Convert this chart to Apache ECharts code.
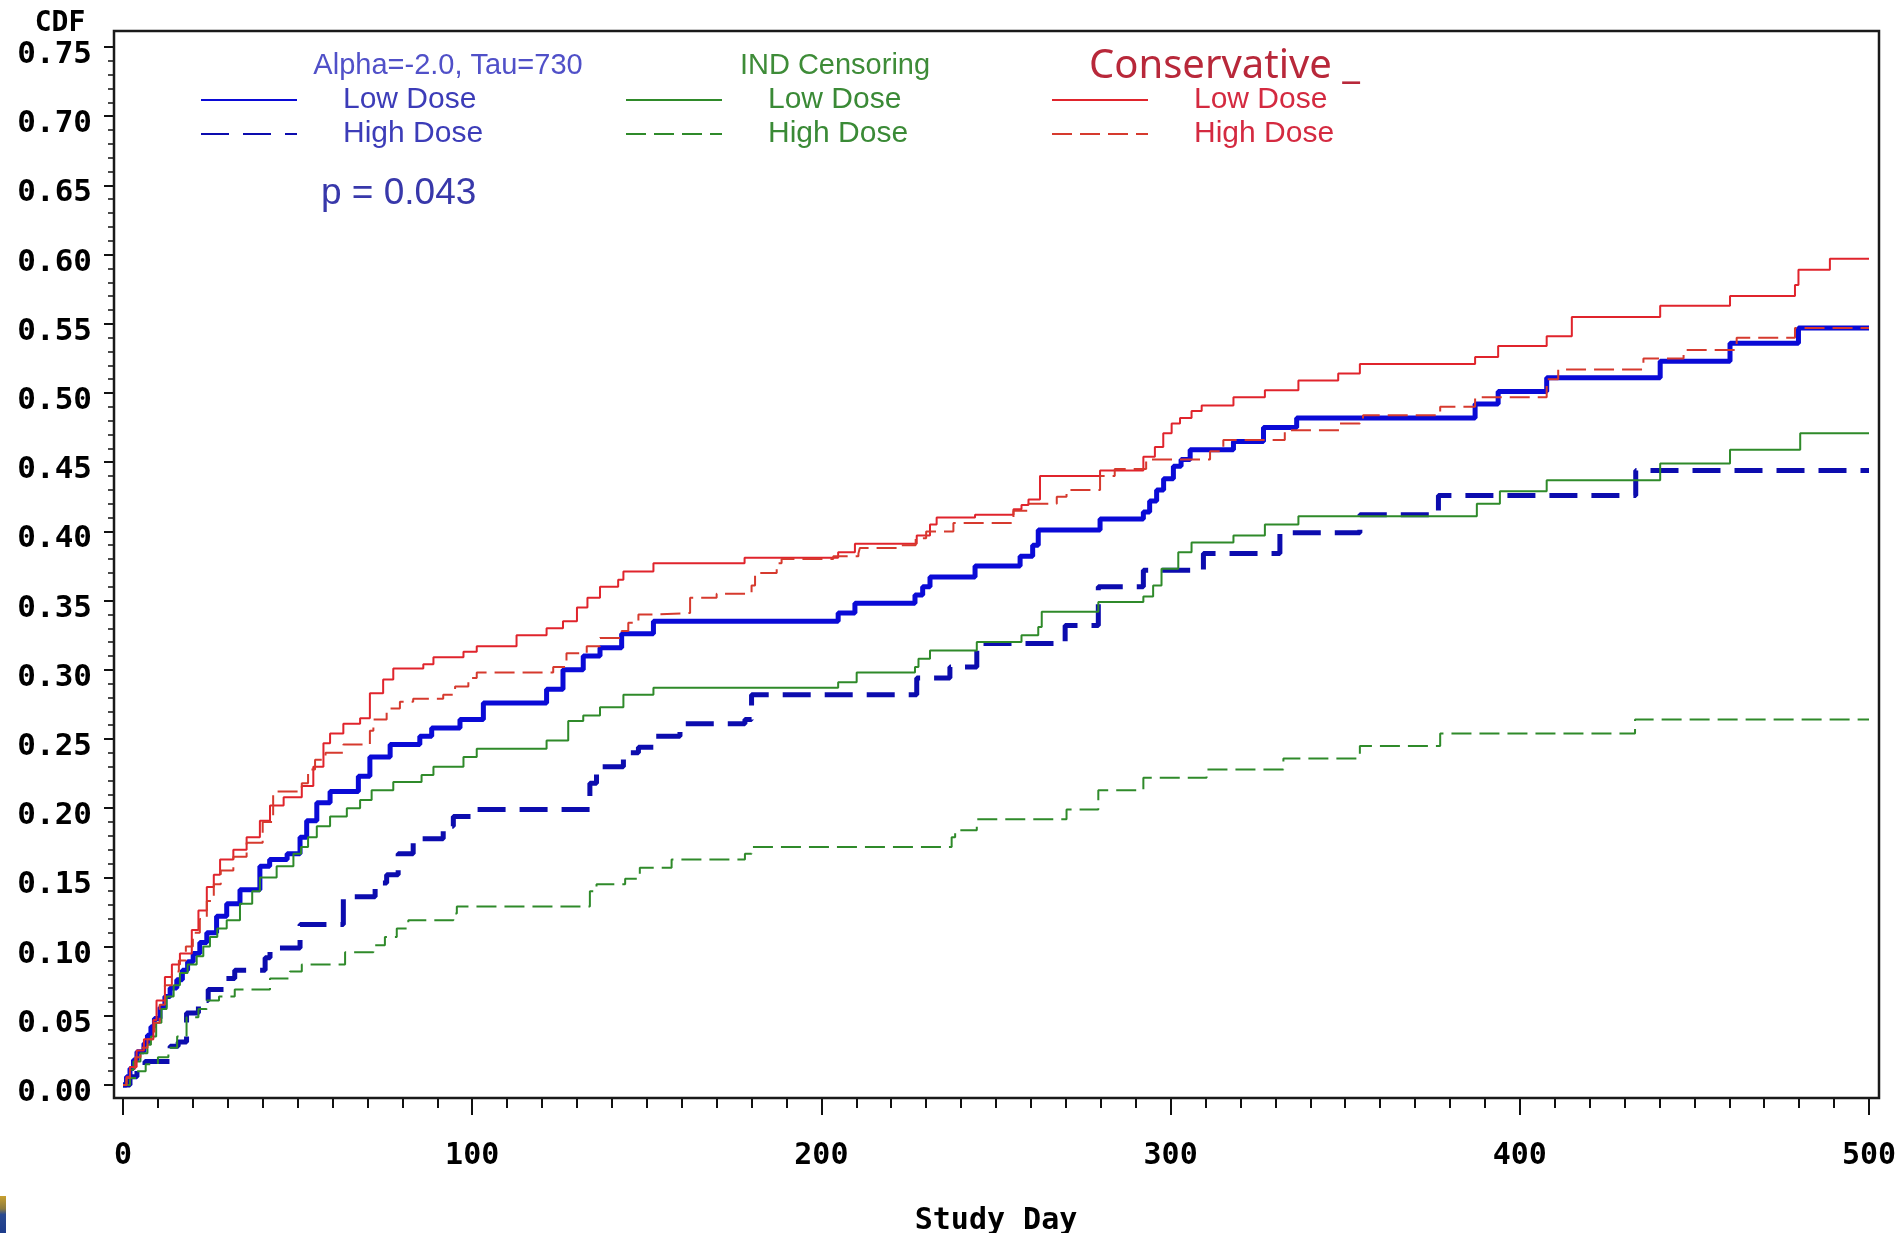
<!DOCTYPE html>
<html>
<head>
<meta charset="utf-8">
<script src="https://cdn.jsdelivr.net/npm/echarts@6/dist/echarts.min.js"></script>
<style>
  html, body { margin: 0; padding: 0; background: #fff; }
  #main { width: 1901px; height: 1233px; }
</style>
</head>
<body>
<div id="main"></div>
<script>
// tick values of both axes
const xTicks = [0, 100, 200, 300, 400, 500];
const yTicks = [0.00, 0.05, 0.10, 0.15, 0.20, 0.25, 0.30, 0.35, 0.40, 0.45, 0.50, 0.55, 0.60, 0.65, 0.70, 0.75];

// [study day, CDF] - step curves
const alphaLow = [
  [0, 0], [1, 0.006], [2, 0.012], [3, 0.018], [4, 0.024], [6, 0.03], [7, 0.036], [8, 0.042], [9, 0.048],
  [10.6, 0.056], [12, 0.064], [13.5, 0.07], [15.4, 0.076], [17, 0.083], [18.5, 0.089], [20.1, 0.095],
  [22, 0.103], [24, 0.11], [26.8, 0.122], [29.7, 0.131], [33.5, 0.141], [39.2, 0.158], [42, 0.163],
  [47, 0.167], [50.7, 0.179], [52.6, 0.191], [55.5, 0.204], [59.3, 0.212], [67.4, 0.223], [70.7, 0.237],
  [76.5, 0.246], [85, 0.252], [88.4, 0.258], [96.5, 0.264], [103.2, 0.276], [121.3, 0.286], [126, 0.3],
  [131.8, 0.31], [136.6, 0.316], [142.8, 0.326], [151.9, 0.335], [204.8, 0.341], [209.6, 0.348],
  [226.8, 0.354], [229, 0.36], [231.1, 0.367], [244, 0.375], [256.9, 0.382], [260.5, 0.39], [262.1, 0.401],
  [279.8, 0.409], [292.2, 0.414], [294, 0.422], [296, 0.43], [298, 0.438], [300.8, 0.447], [303, 0.452],
  [305.6, 0.459], [318, 0.465], [326.6, 0.475], [336.1, 0.482], [387.2, 0.492], [393.8, 0.501],
  [407.7, 0.511], [440.2, 0.523], [460.2, 0.536], [479.8, 0.547], [500, 0.547]
];
const alphaHigh = [
  [0, 0], [2, 0.006], [4, 0.012], [6.3, 0.017], [13.5, 0.028], [15.8, 0.031], [18.2, 0.052], [21.6, 0.061],
  [24.4, 0.069], [29.2, 0.077], [32, 0.083], [40.7, 0.092], [42.1, 0.099], [50.7, 0.116], [63.1, 0.136],
  [72.2, 0.146], [75.5, 0.152], [78.8, 0.167], [83.1, 0.178], [91.7, 0.187], [94.6, 0.194], [99.7, 0.199],
  [133.7, 0.218], [135.6, 0.23], [143.3, 0.24], [147.6, 0.244], [152.3, 0.252], [159.5, 0.261],
  [178.1, 0.264], [180, 0.282], [227.3, 0.294], [236.8, 0.302], [244.5, 0.319], [269.8, 0.332],
  [279.3, 0.36], [292.2, 0.372], [309.4, 0.384], [331.3, 0.399], [354.2, 0.412], [376.7, 0.426],
  [433.2, 0.444], [500, 0.444]
];
const indLow = [
  [0, 0], [1, 0.005], [2, 0.011], [3, 0.017], [5, 0.023], [7, 0.029], [8, 0.035], [9.5, 0.045], [11, 0.055],
  [12.5, 0.064], [14.5, 0.072], [16.3, 0.081], [18.5, 0.087], [21.1, 0.093], [23, 0.1], [24.9, 0.107],
  [27, 0.113], [29.7, 0.119], [33.5, 0.131], [37, 0.14], [39.2, 0.15], [44, 0.158], [48.8, 0.167],
  [51, 0.172], [53, 0.179], [55.5, 0.187], [59.3, 0.194], [64.1, 0.2], [67.9, 0.206], [71.2, 0.213],
  [77.4, 0.219], [85.5, 0.224], [88.9, 0.23], [97.5, 0.237], [101.3, 0.243], [121.3, 0.249],
  [127.5, 0.263], [131.8, 0.267], [136.6, 0.273], [143.3, 0.282], [151.9, 0.287], [204.8, 0.291],
  [210.1, 0.298], [226.8, 0.302], [227.8, 0.308], [231.1, 0.314], [244.5, 0.32], [257.3, 0.325],
  [262.1, 0.331], [263.1, 0.342], [279.3, 0.349], [292.2, 0.353], [295, 0.361], [297.4, 0.373],
  [302.2, 0.385], [306, 0.392], [318, 0.397], [327, 0.405], [336.6, 0.411], [387.7, 0.42], [394.3, 0.429],
  [407.7, 0.437], [440.2, 0.449], [460.2, 0.459], [480.3, 0.471], [500, 0.471]
];
const indHigh = [
  [0, 0], [2, 0.005], [4, 0.01], [6.5, 0.015], [10, 0.02], [13, 0.027], [15.5, 0.035], [18.2, 0.049],
  [21.6, 0.055], [24, 0.061], [27.5, 0.064], [32, 0.069], [42.1, 0.077], [47.8, 0.082], [51.2, 0.087],
  [63.6, 0.096], [71.7, 0.101], [75, 0.107], [78.4, 0.113], [81.7, 0.119], [94.6, 0.124], [95.6, 0.129],
  [133.7, 0.14], [135.6, 0.145], [143.8, 0.149], [148, 0.157], [157.1, 0.163], [178.1, 0.167], [180, 0.172],
  [237.3, 0.179], [238.3, 0.184], [244.5, 0.192], [270.2, 0.199], [279.3, 0.213], [292.2, 0.222],
  [310.3, 0.228], [332.3, 0.236], [354.2, 0.245], [377.2, 0.254], [433, 0.264], [500, 0.264]
];
const consLow = [
  [0, 0], [1, 0.006], [2, 0.013], [3.9, 0.025], [6, 0.033], [8.7, 0.047], [9.6, 0.061], [12, 0.078],
  [14, 0.087], [16.3, 0.095], [19.7, 0.112], [21.6, 0.126], [24, 0.143], [26, 0.152], [27.8, 0.163],
  [31.6, 0.17], [35.4, 0.179], [39.2, 0.191], [42.1, 0.202], [46, 0.208], [51.2, 0.216], [54.5, 0.23],
  [57.4, 0.247], [59.3, 0.254], [63.1, 0.261], [67.9, 0.265], [70.7, 0.283], [74.5, 0.293], [77.4, 0.301],
  [86, 0.304], [88.9, 0.309], [97.5, 0.313], [101.3, 0.317], [112.7, 0.325], [121.3, 0.33], [126, 0.335],
  [130, 0.345], [133, 0.352], [136.6, 0.36], [141.8, 0.365], [143.3, 0.371], [151.9, 0.377], [178, 0.381],
  [204.8, 0.385], [209.6, 0.391], [227.3, 0.397], [231.1, 0.405], [233, 0.41], [244, 0.412], [255, 0.416],
  [257.3, 0.419], [259.3, 0.423], [262.6, 0.44], [279.8, 0.444], [292.2, 0.454], [295.5, 0.461],
  [297.9, 0.471], [300.3, 0.478], [302.7, 0.482], [306, 0.487], [308.9, 0.491], [318, 0.497], [327, 0.502],
  [336.6, 0.509], [348, 0.514], [354.2, 0.521], [387.2, 0.526], [393.8, 0.534], [407.7, 0.541],
  [414.9, 0.555], [440.2, 0.563], [460.2, 0.57], [478.8, 0.578], [479.8, 0.589], [488.8, 0.597], [500, 0.597]
];
const consHigh = [
  [0, 0], [1, 0.005], [2, 0.012], [3.5, 0.02], [5, 0.027], [7, 0.033], [9, 0.045], [10.5, 0.058], [12, 0.072],
  [14, 0.082], [16, 0.09], [18, 0.1], [20, 0.11], [22, 0.12], [24, 0.133], [26, 0.145], [28, 0.155],
  [31.6, 0.165], [35.4, 0.175], [40, 0.19], [43, 0.212], [51.2, 0.218], [53, 0.228], [55, 0.235], [58, 0.24],
  [63.1, 0.246], [70.7, 0.256], [71.7, 0.264], [75.5, 0.272], [79.3, 0.277], [83.1, 0.279], [91.7, 0.282],
  [95.1, 0.288], [98.9, 0.294], [101.3, 0.298], [123.2, 0.302], [127, 0.312], [132.8, 0.317],
  [136.6, 0.323], [142.8, 0.328], [144.7, 0.334], [147.6, 0.34], [152.3, 0.341], [162.4, 0.352], [170, 0.355],
  [180, 0.361], [181, 0.37], [187.2, 0.377], [188.6, 0.38], [203.4, 0.382], [210.6, 0.384], [211, 0.388],
  [223, 0.39], [227, 0.395], [230, 0.4], [237.8, 0.406], [255, 0.415], [259.3, 0.42], [267.4, 0.425],
  [270.2, 0.43], [279.8, 0.44], [284, 0.445], [293, 0.452], [311.3, 0.458], [315.1, 0.466], [332.7, 0.473],
  [348.5, 0.478], [354.2, 0.481], [355.1, 0.484], [377.2, 0.49], [387.2, 0.497], [407.7, 0.51], [411, 0.517],
  [435.4, 0.525], [446.9, 0.531], [462.1, 0.54], [478.8, 0.547], [500, 0.547]
];

var dom = document.getElementById('main');
var myChart = echarts.init(dom, null, { renderer: 'canvas', useDirtyRect: false });

const monoFont = 'DejaVu Sans Mono';
const sansFont = 'Liberation Sans';

// legend shows only the part after the group name
function shortName(name) {
  return name.split('|')[1];
}

function stepLine(name, data, color, width, dash, z) {
  return {
    name: name,
    type: 'line',
    step: 'end',
    data: data,
    color: color,
    symbol: 'none',
    showSymbol: false,
    clip: false,
    z: z,
    lineStyle: { color: color, width: width, type: dash },
    emphasis: { disabled: true }
  };
}

function groupLegend(names, left, textColor) {
  return {
    data: names,
    orient: 'vertical',
    left: left,
    top: 85,
    padding: 0,
    itemWidth: 96,
    itemHeight: 12,
    itemGap: 4,
    selectedMode: false,
    formatter: shortName,
    itemStyle: { opacity: 0 },   // hide the dot drawn on line icons
    textStyle: {
      color: textColor,
      fontFamily: sansFont,
      fontSize: 30,
      lineHeight: 30,
      padding: [0, 0, 0, 41]
    }
  };
}

const option = {
  animation: false,
  backgroundColor: '#fff',
  grid: { left: 123, right: 32, top: 47, bottom: 148, containLabel: false, outerBoundsMode: 'none' },
  xAxis: {
    type: 'value',
    min: xTicks[0],
    max: xTicks[xTicks.length - 1],
    interval: xTicks[1] - xTicks[0],
    offset: 13,
    axisLine: { show: false, onZero: false },
    axisTick: { show: true, inside: false, length: 17, lineStyle: { color: '#111', width: 2 } },
    minorTick: { show: true, splitNumber: 10, length: 10, lineStyle: { color: '#111', width: 2 } },
    splitLine: { show: false },
    axisLabel: {
      margin: 43,
      color: '#000',
      fontFamily: monoFont,
      fontWeight: 'bold',
      fontSize: 30
    },
    name: 'Study Day',
    nameLocation: 'middle',
    nameGap: 108,
    nameTextStyle: { color: '#000', fontFamily: monoFont, fontWeight: 'bold', fontSize: 30 }
  },
  yAxis: {
    type: 'value',
    min: yTicks[0],
    max: yTicks[yTicks.length - 1],
    interval: 0.05,
    offset: 9,
    axisLine: { show: false, onZero: false },
    axisTick: { show: true, inside: false, length: 10, lineStyle: { color: '#111', width: 2 } },
    minorTick: { show: true, splitNumber: 5, length: 6, lineStyle: { color: '#111', width: 1.5 } },
    splitLine: { show: false },
    axisLabel: {
      margin: 22,
      verticalAlign: 'top',
      lineHeight: 16,
      color: '#000',
      fontFamily: monoFont,
      fontWeight: 'bold',
      fontSize: 31,
      formatter: function (v) { return v.toFixed(2); }
    }
  },
  legend: [
    groupLegend(['Alpha|Low Dose', 'Alpha|High Dose'], 200, '#3c3cb8'),
    groupLegend(['IND|Low Dose', 'IND|High Dose'], 625, '#3a8a36'),
    groupLegend(['Cons|Low Dose', 'Cons|High Dose'], 1051, '#d42a40')
  ],
  graphic: [
    // plot frame
    { type: 'rect', z: 1, shape: { x: 114, y: 31, width: 1765, height: 1067 },
      style: { fill: 'none', stroke: '#1a1a1a', lineWidth: 2.5 } },
    { type: 'text', style: { x: 60, y: 24, text: 'CDF', align: 'center', verticalAlign: 'middle',
      font: 'bold 28px "' + monoFont + '"', fill: '#000' } },
    { type: 'text', style: { x: 448, y: 66, text: 'Alpha=-2.0, Tau=730', align: 'center', verticalAlign: 'middle',
      font: '29px "' + sansFont + '"', fill: '#5050c8' } },
    { type: 'text', style: { x: 835, y: 66, text: 'IND Censoring', align: 'center', verticalAlign: 'middle',
      font: '29px "' + sansFont + '"', fill: '#3e8c38' } },
    { type: 'text', style: { x: 1089, y: 67, text: 'Conservative _', align: 'left', verticalAlign: 'middle',
      font: '40px "Noto Sans"', fill: '#b8283a' } },
    { type: 'text', style: { x: 321, y: 194, text: 'p = 0.043', align: 'left', verticalAlign: 'middle',
      font: '37px "' + sansFont + '"', fill: '#3838aa' } },
    // slide edge in the lower left corner
    { type: 'rect', shape: { x: 0, y: 1196, width: 6, height: 37 },
      style: { fill: new echarts.graphic.LinearGradient(0, 0, 0, 1, [
        { offset: 0, color: '#c8a030' }, { offset: 0.35, color: '#8a7a40' }, { offset: 0.5, color: '#2a4a90' },
        { offset: 1, color: '#1d3c8c' }]) } }
  ],
  series: [
    stepLine('Alpha|Low Dose', alphaLow, '#0a0ad6', 5, 'solid', 3),
    stepLine('Alpha|High Dose', alphaHigh, '#0c0cae', 5, [28, 14], 3),
    stepLine('IND|Low Dose', indLow, '#2f8a2a', 2, 'solid', 4),
    stepLine('IND|High Dose', indHigh, '#2f8a2a', 2, [20, 8], 4),
    stepLine('Cons|Low Dose', consLow, '#e0242c', 2, 'solid', 5),
    stepLine('Cons|High Dose', consHigh, '#d63a2e', 2, [20, 8], 5)
  ]
};

if (option && typeof option === 'object') {
  myChart.setOption(option);
}

window.addEventListener('resize', myChart.resize);
</script>
</body>
</html>
